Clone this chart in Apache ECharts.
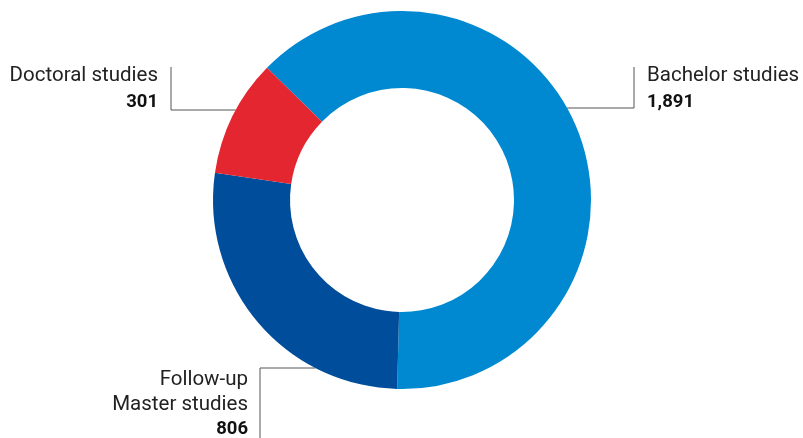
<!DOCTYPE html>
<html><head><meta charset="utf-8">
<script src="https://cdn.jsdelivr.net/npm/echarts@6/dist/echarts.min.js"></script>
<style>html,body{margin:0;padding:0;background:#fff}#c{width:803px;height:438px}</style>
</head><body><div id="c"></div>
<script>
var categories = ['Bachelor studies', 'Follow-up\nMaster studies', 'Doctoral studies'];
var values = [1891, 806, 301];
var colors = ['#0089D1', '#004E9B', '#E42630'];

var W = 803, H = 438;
var cx = 402, cy = 200, rOut = 189, rIn = 112;
// label placement per slice: anchor y on ring, elbow x, line end y, text anchor
var layouts = [
  {attachY: 108, side: 1, elbowX: 634, endY: 67, tx: 647, ty: 63, align: 'left', lh: 26},
  {attachY: 368, side: -1, elbowX: 260, endY: 438, tx: 248, ty: 368, align: 'right', lh: 24.5},
  {attachY: 110, side: -1, elbowX: 171, endY: 67, tx: 158, ty: 63, align: 'right', lh: 26}
];

function fmt(v){ return v.toLocaleString('en-US'); }

var chart = echarts.init(document.getElementById('c'), null, {renderer: 'canvas'});
chart.setOption({
  animation: false,
  series: [{
    type: 'pie',
    center: [cx, cy],
    radius: [rIn, rOut],
    startAngle: 135.6,
    clockwise: true,
    itemStyle: {borderWidth: 0},
    emphasis: {disabled: true},
    data: categories.map(function(c, i){
      var L = layouts[i];
      return {
        name: c, value: values[i],
        itemStyle: {color: colors[i]},
        label: {
          align: L.align,
          rich: {
            n: {fontFamily: 'Roboto', fontSize: 20.5, color: '#222', lineHeight: L.lh, align: L.align},
            v: {fontFamily: 'Roboto', fontSize: 18.5, fontWeight: 'bold', color: '#111', lineHeight: L.lh, align: L.align}
          }
        }
      };
    }),
    label: {
      show: true,
      position: 'outside',
      formatter: function(p){ return '{n|' + p.name.split('\n').join('}\n{n|') + '}\n{v|' + fmt(p.value) + '}'; }
    },
    labelLine: {show: true, lineStyle: {color: '#555', width: 1}},
    labelLayout: function(p){
      var L = layouts[p.dataIndex];
      var dy = L.attachY - cy;
      var ax = cx + L.side * Math.sqrt(rOut * rOut - dy * dy);
      return {
        x: L.tx, y: L.ty, align: L.align, verticalAlign: 'top',
        labelLinePoints: [[ax, L.attachY], [L.elbowX, L.attachY], [L.elbowX, L.endY]]
      };
    }
  }]
});
</script></body></html>
